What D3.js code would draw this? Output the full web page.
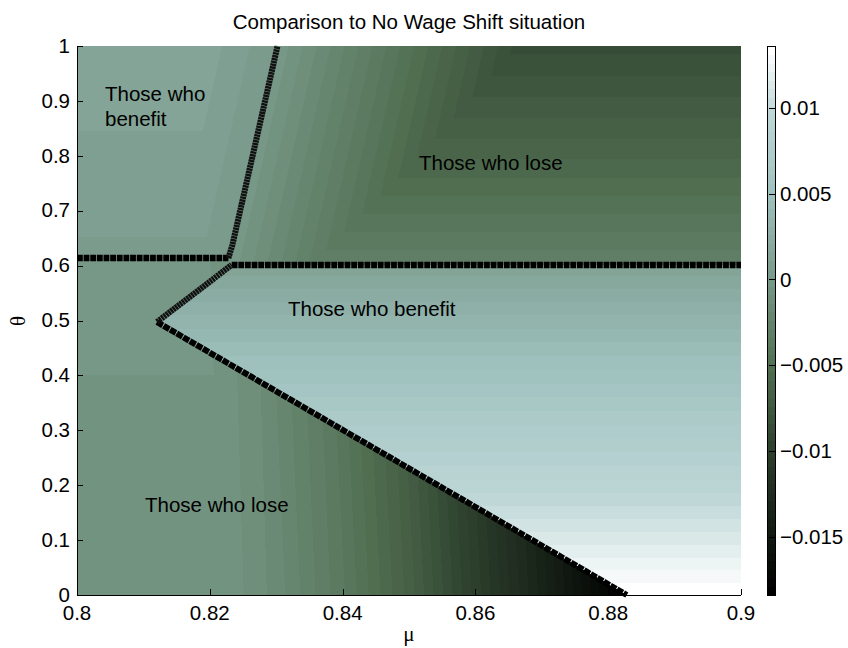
<!DOCTYPE html>
<html><head><meta charset="utf-8">
<script src="https://cdn.jsdelivr.net/npm/d3@7"></script>
<style>
body{margin:0;background:#fff}
text{font-family:"Liberation Sans",Arial,Helvetica,sans-serif;fill:#000}
</style>
</head><body>
<svg id="chart" width="848" height="648"></svg>
<script>
// ---------------- data ----------------
const titleText = "Comparison to No Wage Shift situation";
const xLabel = "μ";
const yLabel = "θ";
const xDomain = [0.8, 0.9];
const yDomain = [0, 1];
const xTicks = [0.8, 0.82, 0.84, 0.86, 0.88, 0.9];
const yTicks = [0, 0.1, 0.2, 0.3, 0.4, 0.5, 0.6, 0.7, 0.8, 0.9, 1];
const cbTicks = [-0.015, -0.01, -0.005, 0, 0.005, 0.01];
const zRange = [-0.0184, 0.0136];
const nColors = 64;
// colormap anchors
const cmapValues = [-0.0184, -0.015, -0.01, -0.005, -0.0025, 0, 0.005, 0.01, 0.0136];
const cmapColors = ["rgb(0,0,0)", "rgb(18,26,18)", "rgb(45,64,45)", "rgb(82,112,82)", "rgb(100,131,108)",
                    "rgb(120,152,136)", "rgb(158,193,190)", "rgb(190,215,215)", "rgb(255,255,255)"];

// region boundaries (mu, theta)
const boundaryLeftFlat  = [[0.8, 0.6138], [0.8228, 0.6138]];
const boundarySteep     = [[0.8228, 0.6138], [0.8234, 0.6375], [0.8302, 1.0]];
const boundaryRightFlat = [[0.8233, 0.6012], [0.9, 0.6012]];
const boundaryUpperDiag = [[0.81205, 0.4973], [0.8233, 0.6012]];
const boundaryLowerDiag = [[0.81205, 0.4973], [0.8828, 0.0]];

// lower "lose" region: value drop versus (slightly tilted) mu, plus a baseline versus theta
const loseMu   = [0.800, 0.823, 0.830, 0.840, 0.850, 0.860, 0.870, 0.880, 0.8828];
const loseDrop = [0, 0, -0.0010, -0.0032, -0.0060, -0.0095, -0.0130, -0.0168, -0.0178];
const loseBaseTheta = [0, 0.6];
const loseBase      = [-0.0006, -0.0003];
const loseTilt = 0.006;
// middle "benefit" region: value versus theta
const benefitTheta = [0, 0.1, 0.2, 0.3, 0.4, 0.5, 0.6012];
const benefitZ     = [0.0136, 0.0114, 0.0093, 0.0073, 0.0053, 0.0033, 0.0012];
// upper right "lose" region: value versus theta, and slope versus distance from the steep boundary
const upperTheta = [0.6012, 0.7, 0.8, 0.9, 1.0];
const upperZ     = [-0.0030, -0.0045, -0.0060, -0.0073, -0.0086];
const upperRightSlope = -0.238;
// upper left "benefit" region
const ulTheta = [0.6138, 1.0];
const ulZ     = [0.0005, 0.0015];
const upperLeftSlope = 0.12;

// annotations (left x, baseline) in data coordinates
const labels = [
  {text: "Those who", mu: 0.80422, th: 0.8998},
  {text: "benefit", mu: 0.80422, th: 0.8543},
  {text: "Those who lose", mu: 0.85151, th: 0.7741},
  {text: "Those who benefit", mu: 0.83178, th: 0.5082},
  {text: "Those who lose", mu: 0.81024, th: 0.1512}
];

// ---------------- chart ----------------
const svg = d3.select("#chart");
const x = d3.scaleLinear().domain(xDomain).range([77, 741]);
const y = d3.scaleLinear().domain(yDomain).range([595, 46]);
const cb = d3.scaleLinear().domain(zRange).range([595, 46]);

const lin = (xs, ys) => d3.scaleLinear().domain(xs).range(ys).clamp(true);
const loseDropF = lin(loseMu, loseDrop);
const loseBaseF = lin(loseBaseTheta, loseBase);
const benefitF = lin(benefitTheta, benefitZ);
const upperF = lin(upperTheta, upperZ);
const ulF = lin(ulTheta, ulZ);

function segMu(p, q, t) { return p[0] + (t - p[1]) * (q[0] - p[0]) / (q[1] - p[1]); }
function segTh(p, q, m) { return p[1] + (m - p[0]) * (q[1] - p[1]) / (q[0] - p[0]); }

function steepPolyMu(t) {
  const [a, b, c] = boundarySteep;
  return t <= b[1] ? segMu(a, b, t) : segMu(b, c, t);
}
function steepLineMu(t) { return segMu(boundarySteep[1], boundarySteep[2], t); }

function field(m, t) {
  const lf = boundaryLeftFlat, rf = boundaryRightFlat;
  let upperEdge;
  if (m <= lf[1][0]) upperEdge = lf[0][1];
  else if (m >= rf[0][0]) upperEdge = rf[0][1];
  else upperEdge = segTh(lf[1], rf[0], m);
  if (t >= upperEdge) {
    if (m < steepPolyMu(t)) {
      return Math.min(ulF(t), upperLeftSlope * (steepLineMu(t) - m) + 0.0001);
    }
    const d = m - steepLineMu(t);
    return Math.max(upperRightSlope * d, upperF(t));
  }
  const k = boundaryLowerDiag[0];
  let isB;
  if (t > k[1]) isB = m > segMu(boundaryUpperDiag[0], boundaryUpperDiag[1], t);
  else isB = m > k[0] && t > segTh(boundaryLowerDiag[0], boundaryLowerDiag[1], m);
  if (isB) return benefitF(t);
  return loseBaseF(t) + loseDropF(m + loseTilt * t);
}

const cmap = d3.scaleLinear().domain(cmapValues).range(cmapColors).interpolate(d3.interpolateRgb);
const palette = d3.range(nColors).map(i => d3.color(cmap(zRange[0] + i / (nColors - 1) * (zRange[1] - zRange[0]))).formatHex());
function colorIndex(z) {
  let i = Math.floor((z - zRange[0]) / (zRange[1] - zRange[0]) * nColors);
  return Math.max(0, Math.min(nColors - 1, i));
}

// surface cells (run-length merged)
const rects = [];
const px0 = Math.round(x.range()[0]), px1 = Math.round(x.range()[1]);
const py0 = Math.round(y.range()[1]), py1 = Math.round(y.range()[0]);
let prev = new Map();
for (let py = py0; py < py1; py++) {
  const t = y.invert(py + 0.5);
  const cur = new Map();
  let start = px0, ci = -1;
  const flush = (end) => {
    const key = start + "|" + end + "|" + ci;
    let r = prev.get(key);
    if (r) { r.h += 1; } else { r = {x: start, w: end - start, y: py, h: 1, c: palette[ci]}; rects.push(r); }
    cur.set(key, r);
  };
  for (let px = px0; px < px1; px++) {
    const c = colorIndex(field(x.invert(px + 0.5), t));
    if (c !== ci) { if (ci >= 0) flush(px); start = px; ci = c; }
  }
  flush(px1);
  prev = cur;
}
svg.append("g").attr("shape-rendering", "crispEdges")
  .selectAll("rect").data(rects).join("rect")
  .attr("x", d => d.x).attr("y", d => d.y).attr("width", d => d.w).attr("height", d => d.h)
  .attr("fill", d => d.c);

// boundary markers
const line = d3.line().x(d => x(d[0])).y(d => y(d[1]));
const gB = svg.append("g").attr("fill", "none");
[boundaryLeftFlat, boundaryRightFlat].forEach(p =>
  gB.append("path").attr("d", line(p)).attr("stroke", "#000").attr("stroke-width", 6.5).attr("stroke-dasharray", "5.8,0.84"));
gB.append("path").attr("d", line(boundaryLowerDiag)).attr("stroke", "#000").attr("stroke-width", 6).attr("stroke-dasharray", "6.6,1.0");
[boundarySteep, boundaryUpperDiag].forEach(p =>
  gB.append("path").attr("d", line(p)).attr("stroke", "#111").attr("stroke-width", 6).attr("stroke-dasharray", "2.4,0.5"));

// annotations
svg.append("g").selectAll("text").data(labels).join("text")
  .attr("x", d => x(d.mu)).attr("y", d => y(d.th)).attr("font-size", 20.5).text(d => d.text);

// axes
const axG = svg.append("g").attr("stroke", "#000").attr("shape-rendering", "crispEdges");
axG.append("line").attr("x1", 77).attr("x2", 77).attr("y1", y(1)).attr("y2", y(0));
axG.append("line").attr("x1", x(0.8)).attr("x2", x(0.9)).attr("y1", 595).attr("y2", 595);
axG.selectAll(".xt").data(xTicks).join("line").attr("class", "xt")
  .attr("x1", d => Math.round(x(d))).attr("x2", d => Math.round(x(d))).attr("y1", 595).attr("y2", 589);
axG.selectAll(".yt").data(yTicks).join("line").attr("class", "yt")
  .attr("x1", 77).attr("x2", 83).attr("y1", d => Math.round(y(d))).attr("y2", d => Math.round(y(d)));
const fmt = d3.format("~g");
svg.append("g").selectAll("text").data(xTicks).join("text")
  .attr("x", d => x(d)).attr("y", 620).attr("text-anchor", "middle").attr("font-size", 20.5).text(d => fmt(d));
svg.append("g").selectAll("text").data(yTicks).join("text")
  .attr("x", 70).attr("y", d => y(d)).attr("dy", "0.33em").attr("text-anchor", "end").attr("font-size", 20.5).text(d => fmt(d));

// titles
svg.append("text").attr("x", (x(0.8) + x(0.9)) / 2).attr("y", 29).attr("text-anchor", "middle").attr("font-size", 20.5).text(titleText);
svg.append("text").attr("x", (x(0.8) + x(0.9)) / 2).attr("y", 641).attr("text-anchor", "middle")
  .style("font-family", "'Liberation Serif','Times New Roman',serif").attr("font-size", 21).text(xLabel);
svg.append("text").attr("transform", "translate(25,321) rotate(-90)").attr("text-anchor", "middle")
  .style("font-family", "'Liberation Serif','Times New Roman',serif").attr("font-size", 21).text(yLabel);

// colour bar
const cbX0 = 767, cbX1 = 775;
const cbBins = d3.range(nColors).map(i => ({
  lo: zRange[0] + i / nColors * (zRange[1] - zRange[0]),
  hi: zRange[0] + (i + 1) / nColors * (zRange[1] - zRange[0]),
  c: palette[i]
}));
svg.append("g").attr("shape-rendering", "crispEdges").selectAll("rect").data(cbBins).join("rect")
  .attr("x", cbX0).attr("width", cbX1 - cbX0)
  .attr("y", d => cb(d.hi)).attr("height", d => cb(d.lo) - cb(d.hi) + 0.5).attr("fill", d => d.c);
svg.append("rect").attr("x", cbX0).attr("y", cb(zRange[1])).attr("width", cbX1 - cbX0)
  .attr("height", cb(zRange[0]) - cb(zRange[1])).attr("fill", "none").attr("stroke", "#000").attr("shape-rendering", "crispEdges");
svg.append("g").attr("stroke", "#000").attr("shape-rendering", "crispEdges").selectAll("line").data(cbTicks).join("line")
  .attr("x1", cbX1).attr("x2", cbX1 - 6).attr("y1", d => Math.round(cb(d))).attr("y2", d => Math.round(cb(d)));
svg.append("g").selectAll("text").data(cbTicks).join("text")
  .attr("x", 780).attr("y", d => cb(d)).attr("dy", "0.35em").attr("font-size", 20.5).text(d => fmt(d));
</script>
</body></html>
